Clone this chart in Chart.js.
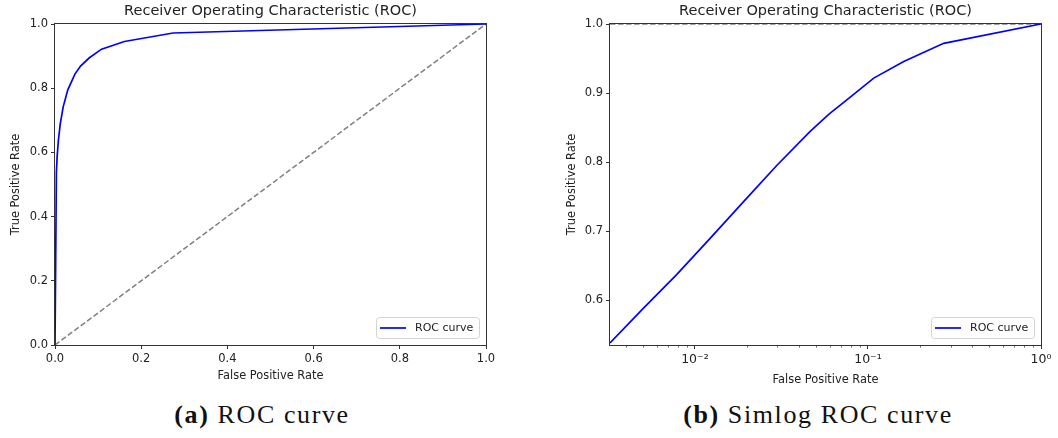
<!DOCTYPE html>
<html>
<head>
<meta charset="utf-8">
<script src="https://cdn.jsdelivr.net/npm/chart.js@4.4.1/dist/chart.umd.min.js"></script>
<style>
  body { margin: 0; background: #fff; width: 1058px; height: 438px; overflow: hidden; position: relative; }
  .panel { position: absolute; top: 0; width: 529px; height: 395px; }
  .caption {
    position: absolute; top: 402px; line-height: 26px;
    font-family: "Liberation Serif", serif; font-size: 26px; color: #111;
    letter-spacing: 1.6px; white-space: nowrap; transform: translateX(-50%);
  }
</style>
</head>
<body>
<div class="panel" style="left:0"><canvas id="rocChart" width="529" height="395"></canvas></div>
<div class="panel" style="left:529px"><canvas id="logChart" width="529" height="395"></canvas></div>
<div class="caption" style="left:262px"><b>(a)</b> ROC curve</div>
<div class="caption" style="left:818px"><b>(b)</b> Simlog ROC curve</div>

<script>
// ROC points
const fpr = [0, 0.00323, 0.00503, 0.00784, 0.0122, 0.019, 0.0297, 0.0462, 0.0593, 0.079, 0.108, 0.161, 0.274, 1.0];
const tpr = [0, 0.538, 0.588, 0.637, 0.689, 0.742, 0.795, 0.844, 0.869, 0.894, 0.9216, 0.9456, 0.972, 1.0];

// chance diagonal
const diagX = [0, 1];
const diagY = [0, 1];

const linearTicks = [0, 0.2, 0.4, 0.6, 0.8, 1.0];
const logYTicks = [0.6, 0.7, 0.8, 0.9, 1.0];
const logXTicks = [0.01, 0.1, 1];
const logXLabels = ['10\u207B\u00B2', '10\u207B\u00B9', '10\u2070'];
const logXMinor = [0.004, 0.005, 0.006, 0.007, 0.008, 0.009,
                   0.02, 0.03, 0.04, 0.05, 0.06, 0.07, 0.08, 0.09,
                   0.2, 0.3, 0.4, 0.5, 0.6, 0.7, 0.8, 0.9];

const textColor = '#222';
const axisColor = '#333';
const tickFont = { family: 'DejaVu Sans', size: 11.5 };
const labelFont = { family: 'DejaVu Sans', size: 11.4 };
const titleText = 'Receiver Operating Characteristic (ROC)';

Chart.defaults.font.family = 'DejaVu Sans';
Chart.defaults.color = textColor;

// matplotlib style box around the plot area
const framePlugin = {
  id: 'frame',
  afterDraw(chart) {
    const { ctx, chartArea: a } = chart;
    ctx.save();
    ctx.strokeStyle = axisColor;
    ctx.lineWidth = 1;
    ctx.strokeRect(Math.round(a.left) - 0.5, Math.round(a.top) - 0.5,
      Math.round(a.right - a.left) + 1, Math.round(a.bottom - a.top) + 1);
    ctx.restore();
  }
};

// legend box in the lower right corner
const cornerLegend = {
  id: 'cornerLegend',
  afterDraw(chart) {
    const ds = chart.data.datasets.find(d => d.label);
    if (!ds) return;
    const { ctx, chartArea: a } = chart;
    ctx.save();
    ctx.font = '11px "DejaVu Sans"';
    const tw = ctx.measureText(ds.label).width;
    const w = Math.round(4 + 26 + 9 + tw + 6), h = 21;
    const x = Math.round(a.right - 7 - w), y = Math.round(a.bottom - 7 - h);
    ctx.beginPath();
    ctx.roundRect(x + 0.5, y + 0.5, w, h, 3);
    ctx.fillStyle = 'rgba(255,255,255,0.8)';
    ctx.fill();
    ctx.strokeStyle = '#d4d4d4';
    ctx.lineWidth = 1;
    ctx.stroke();
    ctx.beginPath();
    ctx.moveTo(x + 4, y + h / 2 + 0.5);
    ctx.lineTo(x + 30, y + h / 2 + 0.5);
    ctx.strokeStyle = ds.borderColor;
    ctx.lineWidth = ds.borderWidth;
    ctx.stroke();
    ctx.fillStyle = textColor;
    ctx.textBaseline = 'middle';
    ctx.fillText(ds.label, x + 39, y + h / 2 + 1);
    ctx.restore();
  }
};

// short minor ticks under the log axis
const minorTicks = {
  id: 'minorTicks',
  afterDraw(chart, args, opts) {
    if (!opts.values) return;
    const s = chart.scales.x;
    const { ctx } = chart;
    ctx.save();
    ctx.strokeStyle = axisColor;
    ctx.lineWidth = 0.8;
    opts.values.forEach(v => {
      if (v < s.min || v > s.max) return;
      const px = Math.round(s.getPixelForValue(v)) + 0.5;
      ctx.beginPath();
      ctx.moveTo(px, s.top);
      ctx.lineTo(px, s.top + 2.5);
      ctx.stroke();
    });
    ctx.restore();
  }
};

function axis(extra) {
  return Object.assign({
    grid: { drawOnChartArea: false, drawTicks: true, tickLength: 4, tickColor: axisColor, tickWidth: 1 },
    border: { display: false },
  }, extra);
}

function titleOpts() {
  return {
    display: true, text: titleText, fullSize: false, color: textColor,
    font: { family: 'DejaVu Sans', size: 14.5, weight: 'normal' },
    padding: { top: 2.5, bottom: 4.1 }
  };
}

const rocPoints = fpr.map((x, i) => ({ x, y: tpr[i] }));
const diagPoints = diagX.map((x, i) => ({ x, y: diagY[i] }));

new Chart(document.getElementById('rocChart'), {
  type: 'scatter',
  data: {
    datasets: [
      {
        label: 'ROC curve', data: rocPoints, showLine: true,
        borderColor: '#0000ff', backgroundColor: '#0000ff', borderWidth: 1.7,
        pointRadius: 0, tension: 0, clip: 3
      },
      {
        data: diagPoints, showLine: true,
        borderColor: '#808080', borderWidth: 1.5, borderDash: [5.5, 2.5],
        pointRadius: 0, tension: 0
      }
    ]
  },
  options: {
    responsive: false, animation: false, devicePixelRatio: 1,
    layout: { padding: { left: 0, right: 43, top: 0, bottom: 0 } },
    plugins: { legend: { display: false }, tooltip: { enabled: false }, title: titleOpts() },
    scales: {
      x: axis({
        type: 'linear', min: 0, max: 1,
        afterBuildTicks: s => { s.ticks = linearTicks.map(v => ({ value: v })); },
        afterFit: s => { s.height = 50; },
        ticks: { color: textColor, font: tickFont, padding: 3, maxRotation: 0, autoSkip: false, callback: v => v.toFixed(1) },
        title: { display: true, text: 'False Positive Rate', color: textColor, font: labelFont, padding: { top: 0, bottom: 12 } }
      }),
      y: axis({
        type: 'linear', min: 0, max: 1,
        afterBuildTicks: s => { s.ticks = linearTicks.map(v => ({ value: v })); },
        afterFit: s => { s.width = 55; },
        ticks: { color: textColor, font: tickFont, padding: 3, autoSkip: false, callback: v => v.toFixed(1) },
        title: { display: true, text: 'True Positive Rate', color: textColor, font: labelFont, padding: { top: 9, bottom: 0 } }
      })
    }
  },
  plugins: [framePlugin, cornerLegend]
});

// log panel: only positive false positive rates can go on a log axis
const logPoints = rocPoints.filter(p => p.x > 0);
const xLow = logPoints[0].x;
const topLine = [{ x: xLow, y: Math.max(...tpr) }, { x: Math.max(...fpr), y: Math.max(...tpr) }];

new Chart(document.getElementById('logChart'), {
  type: 'scatter',
  data: {
    datasets: [
      {
        label: 'ROC curve', data: logPoints, showLine: true,
        borderColor: '#0000ff', backgroundColor: '#0000ff', borderWidth: 1.7,
        pointRadius: 0, tension: 0
      },
      {
        data: topLine, showLine: true,
        borderColor: '#808080', borderWidth: 1.5, borderDash: [5.5, 2.5],
        pointRadius: 0, tension: 0
      }
    ]
  },
  options: {
    responsive: false, animation: false, devicePixelRatio: 1,
    layout: { padding: { left: 28, right: 17, top: 0, bottom: 0 } },
    plugins: {
      legend: { display: false }, tooltip: { enabled: false }, title: titleOpts(),
      minorTicks: { values: logXMinor }
    },
    scales: {
      x: axis({
        type: 'logarithmic', min: xLow, max: 1,
        afterBuildTicks: s => { s.ticks = logXTicks.map(v => ({ value: v })); },
        afterFit: s => { s.height = 50; },
        ticks: {
          color: textColor, font: { family: 'DejaVu Sans', size: 12.5 }, padding: 3, maxRotation: 0, autoSkip: false,
          callback: v => logXLabels[logXTicks.indexOf(v)]
        },
        title: { display: true, text: 'False Positive Rate', color: textColor, font: labelFont, padding: { top: 0, bottom: 8 } }
      }),
      y: axis({
        type: 'linear', min: 0.535, max: 1,
        afterBuildTicks: s => { s.ticks = logYTicks.map(v => ({ value: v })); },
        afterFit: s => { s.width = 53; },
        ticks: { color: textColor, font: tickFont, padding: 3, autoSkip: false, callback: v => v.toFixed(1) },
        title: { display: true, text: 'True Positive Rate', color: textColor, font: labelFont, padding: { top: 8, bottom: 0 } }
      })
    }
  },
  plugins: [framePlugin, cornerLegend, minorTicks]
});
</script>
</body>
</html>
